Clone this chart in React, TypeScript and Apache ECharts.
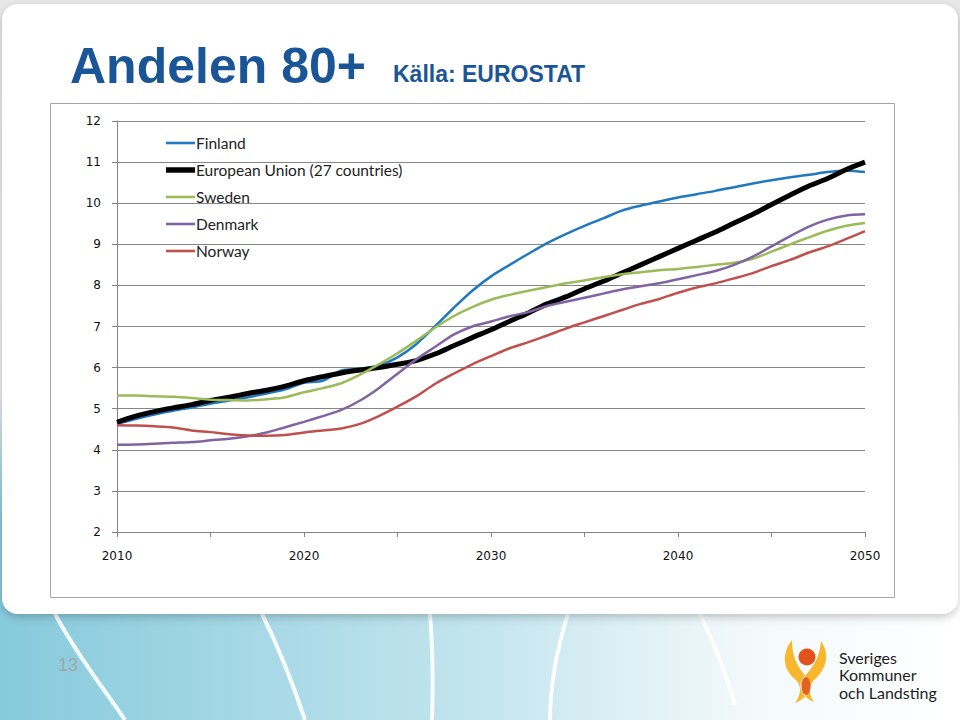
import React, { useEffect, useRef } from "react";
import * as echarts from "echarts";

const years: number[] = [];
for (let y = 2010; y <= 2050; y++) years.push(y);

const seriesNames = ["Finland", "European Union (27 countries)", "Sweden", "Denmark", "Norway"];
const seriesColors = ["#1f78c0", "#000000", "#9bbb59", "#8064a2", "#c0504d"];

const finland = [4.63, 4.75, 4.86, 4.95, 5.03, 5.12, 5.2, 5.28, 5.37, 5.47, 5.63, 5.68, 5.93, 5.97, 6.05, 6.25, 6.57, 7.0, 7.45, 7.87, 8.22, 8.5, 8.77, 9.03, 9.25, 9.45, 9.63, 9.82, 9.94, 10.04, 10.14, 10.22, 10.3, 10.39, 10.48, 10.56, 10.63, 10.69, 10.76, 10.79, 10.76];
const eu = [4.67, 4.82, 4.93, 5.02, 5.1, 5.2, 5.28, 5.37, 5.45, 5.55, 5.68, 5.78, 5.87, 5.94, 6.0, 6.08, 6.17, 6.33, 6.53, 6.73, 6.92, 7.13, 7.33, 7.55, 7.72, 7.92, 8.1, 8.3, 8.5, 8.7, 8.9, 9.1, 9.3, 9.52, 9.73, 9.97, 10.2, 10.42, 10.6, 10.82, 11.0];
const sweden = [5.32, 5.32, 5.3, 5.29, 5.26, 5.22, 5.21, 5.2, 5.23, 5.28, 5.4, 5.5, 5.62, 5.83, 6.08, 6.35, 6.65, 6.97, 7.25, 7.47, 7.65, 7.77, 7.87, 7.96, 8.05, 8.12, 8.2, 8.27, 8.32, 8.37, 8.4, 8.45, 8.5, 8.55, 8.65, 8.82, 9.0, 9.17, 9.33, 9.45, 9.52];
const denmark = [4.12, 4.13, 4.15, 4.17, 4.19, 4.23, 4.27, 4.33, 4.42, 4.55, 4.68, 4.82, 4.97, 5.2, 5.5, 5.85, 6.2, 6.5, 6.8, 7.0, 7.12, 7.25, 7.35, 7.5, 7.6, 7.7, 7.8, 7.9, 7.98, 8.05, 8.15, 8.25, 8.35, 8.5, 8.7, 8.95, 9.2, 9.43, 9.6, 9.7, 9.73];
const norway = [4.6, 4.59, 4.57, 4.54, 4.47, 4.43, 4.38, 4.35, 4.34, 4.36, 4.42, 4.47, 4.52, 4.63, 4.82, 5.05, 5.3, 5.6, 5.85, 6.08, 6.28, 6.47, 6.62, 6.78, 6.95, 7.1, 7.25, 7.4, 7.55, 7.67, 7.82, 7.95, 8.05, 8.17, 8.3, 8.47, 8.62, 8.8, 8.95, 9.13, 9.32];

const seriesValues = [finland, eu, sweden, denmark, norway];
const lineWidths = [2.5, 5, 2.5, 2.5, 2.5];

const titleText = "Andelen 80+";
const sourceText = "Källa: EUROSTAT";
const pageNumber = "13";
const logoLines = ["Sveriges", "Kommuner", "och Landsting"];

const LOGO_D =
  "M9 0 C-2 14 0 30 13 40 C19 46 18 55 12 63 C25 58 29 48 25 40 C19 31 9 22 9 0 Z " +
  "M38 1 C47 14 44 29 31 40 C25 46 26 55 31 62 C19 57 15 48 19 40 C25 31 36 24 38 1 Z";

let registered = false;
function ensureShapes() {
  if (registered) return;
  registered = true;
  echarts.graphic.registerShape("logo", echarts.graphic.extendPath(LOGO_D, {}) as any);
}

export default function App() {
  const ref = useRef<HTMLDivElement>(null);

  useEffect(() => {
    if (!ref.current) return;
    ensureShapes();
    const chart = echarts.init(ref.current, undefined, { renderer: "svg" });

    const curves = [
      [55, 614, 80, 660, 105, 690, 125, 720],
      [262, 614, 280, 650, 295, 690, 305, 720],
      [430, 614, 433, 650, 433, 690, 432, 720],
      [568, 614, 556, 650, 550, 690, 550, 720],
      [700, 614, 715, 645, 728, 680, 735, 705],
    ];

    const option: any = {
      animation: false,
      backgroundColor: "#ffffff",
      textStyle: { fontFamily: "Lato" },
      graphic: [
        {
          type: "rect",
          z: -20,
          shape: { x: 0, y: 0, width: 960, height: 720 },
          style: {
            fill: new echarts.graphic.LinearGradient(0, 0, 1, 0, [
              { offset: 0, color: "#86cadc" },
              { offset: 0.5, color: "#c3e5ee" },
              { offset: 0.78, color: "#f3f9fb" },
              { offset: 1, color: "#ffffff" },
            ]),
          },
        },
        {
          type: "rect",
          z: -19,
          shape: { x: 0, y: 0, width: 960, height: 520 },
          style: {
            fill: new echarts.graphic.LinearGradient(0, 0, 0, 1, [
              { offset: 0, color: "#e8e8e8" },
              { offset: 0.75, color: "#eeeeee" },
              { offset: 1, color: "rgba(238,238,238,0)" },
            ]),
          },
        },
        ...curves.map((c) => ({
          type: "bezierCurve",
          z: -18,
          shape: { x1: c[0], y1: c[1], cpx1: c[2], cpy1: c[3], cpx2: c[4], cpy2: c[5], x2: c[6], y2: c[7] },
          style: { stroke: "rgba(255,255,255,0.9)", lineWidth: 4, fill: null },
        })),
        {
          type: "rect",
          z: -17,
          shape: { x: 2, y: 4, width: 956, height: 610, r: 16 },
          style: {
            fill: "#ffffff",
            shadowBlur: 8,
            shadowColor: "rgba(0,0,0,0.22)",
            shadowOffsetY: 3,
          },
        },
        {
          type: "rect",
          z: -16,
          shape: { x: 50.5, y: 103.5, width: 844, height: 494 },
          style: { fill: "#ffffff", stroke: "#a6a6a6", lineWidth: 1 },
        },
        {
          type: "text",
          z: 10,
          x: 70,
          y: 66,
          style: {
            text: titleText,
            fontFamily: "Liberation Sans",
            fontWeight: "bold",
            fontSize: 50,
            fill: "#1a5697",
            verticalAlign: "middle",
          },
        },
        {
          type: "text",
          z: 10,
          x: 393,
          y: 74,
          style: {
            text: sourceText,
            fontFamily: "Liberation Sans",
            fontWeight: "bold",
            fontSize: 23,
            fill: "#1a5697",
            verticalAlign: "middle",
          },
        },
        {
          type: "text",
          z: 10,
          x: 58,
          y: 665,
          style: {
            text: pageNumber,
            fontFamily: "Liberation Sans",
            fontSize: 18,
            fill: "#a0a8ab",
            verticalAlign: "middle",
          },
        },
        {
          type: "logo",
          z: 10,
          x: 783,
          y: 640,
          scaleX: 1,
          scaleY: 1,
          style: { fill: "#f9b72d" },
        },
        {
          type: "circle",
          z: 11,
          shape: { cx: 807, cy: 657, r: 8.5 },
          style: { fill: "#e2521c" },
        },
        {
          type: "ellipse",
          z: 11,
          shape: { cx: 806, cy: 686, rx: 4.5, ry: 9 },
          style: { fill: "#e2611f" },
        },
        ...logoLines.map((t, i) => ({
          type: "text",
          z: 10,
          x: 839,
          y: 657 + i * 17.5,
          style: {
            text: t,
            fontFamily: "Lato",
            fontSize: 16,
            fill: "#1e1e1e",
            verticalAlign: "middle",
          },
        })),
      ],
      grid: { left: 117, right: 95, top: 121, bottom: 188, containLabel: false },
      legend: {
        orient: "vertical",
        left: 161,
        top: 130,
        itemWidth: 29,
        itemHeight: 14,
        itemGap: 11,
        symbolKeepAspect: true,
        data: seriesNames.map((n, i) => ({
          name: n,
          icon:
            i === 1
              ? "path://M0,0 L29,0 L29,5.5 L0,5.5 Z"
              : "path://M0,0 L29,0 L29,2.6 L0,2.6 Z",
        })),
        textStyle: { fontFamily: "Lato", fontSize: 15.5, color: "#222222", padding: [0, 0, 0, -4] },
      },
      xAxis: {
        type: "value",
        min: 2010,
        max: 2050,
        interval: 5,
        axisLine: { show: true, lineStyle: { color: "#868686", width: 1 } },
        axisTick: { show: true, length: 5, lineStyle: { color: "#868686" } },
        splitLine: { show: false },
        axisLabel: {
          margin: 18,
          color: "#111111",
          fontFamily: "DejaVu Sans",
          fontSize: 12,
          formatter: (v: number) => (v % 10 === 0 ? String(v) : ""),
        },
      },
      yAxis: {
        type: "value",
        min: 2,
        max: 12,
        interval: 1,
        axisLine: { show: true, lineStyle: { color: "#868686", width: 1 } },
        axisTick: { show: true, length: 5, lineStyle: { color: "#868686" } },
        splitLine: { show: true, lineStyle: { color: "#868686", width: 1 } },
        axisLabel: { margin: 16, color: "#111111", fontFamily: "DejaVu Sans", fontSize: 12 },
      },
      series: seriesNames.map((name, i) => ({
        name,
        type: "line",
        showSymbol: false,
        symbol: "none",
        smooth: 0.3,
        data: years.map((y, j) => [y, seriesValues[i][j]]),
        itemStyle: { color: seriesColors[i] },
        lineStyle: { color: seriesColors[i], width: lineWidths[i] },
        z: 3 + i,
      })),
    };

    chart.setOption(option);
    return () => {
      chart.dispose();
    };
  }, []);

  return (
    <div
      ref={ref}
      style={{ position: "absolute", left: 0, top: 0, width: 960, height: 720 }}
    />
  );
}
